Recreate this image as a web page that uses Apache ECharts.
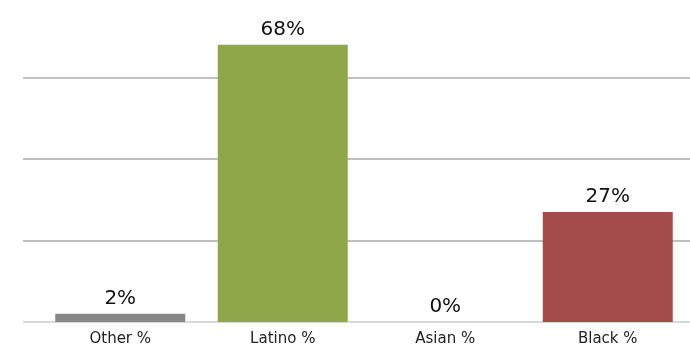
<!DOCTYPE html>
<html>
<head>
<meta charset="utf-8">
<script src="https://cdn.jsdelivr.net/npm/echarts@6/dist/echarts.min.js"></script>
<style>html,body{margin:0;padding:0;background:#fff;}#c{width:690px;height:353px;}</style>
</head>
<body>
<div id="c"></div>
<script>
var categories = ['Other %', 'Latino %', 'Asian %', 'Black %'];
var values = [2, 68, 0, 27];
var barColors = ['#878787', '#8FA64A', '#A44B4B', '#A44B4B'];

var chart = echarts.init(document.getElementById('c'), null, {renderer: 'canvas'});
var font = '"DejaVu Sans", sans-serif';
chart.setOption({
  animation: false,
  grid: [
    {left: 23, right: 0, top: 0, bottom: 31},
    {left: 39, right: 1, top: 0, bottom: 31}
  ],
  xAxis: [
    {gridIndex: 0, type: 'value', show: false, min: 0, max: 1},
    {gridIndex: 1, type: 'category', data: categories,
     axisLine: {show: false}, axisTick: {show: false},
     axisLabel: {color: '#222', fontSize: 15, fontFamily: font, margin: 10}}
  ],
  yAxis: [
    {gridIndex: 0, type: 'value', min: 0, max: 79, interval: 20,
     axisLine: {show: false}, axisTick: {show: false}, axisLabel: {show: false},
     splitLine: {show: true, lineStyle: {width: 2, color: ['#d9d9d9', '#bfbfbf', '#bfbfbf', '#bfbfbf', 'rgba(0,0,0,0)']}}},
    {gridIndex: 1, type: 'value', min: 0, max: 79, interval: 20, show: false,
     splitLine: {show: false}}
  ],
  series: [{
    type: 'bar',
    xAxisIndex: 1, yAxisIndex: 1,
    barCategoryGap: '20%',
    data: values.map(function (v, i) { return {value: v, itemStyle: {color: barColors[i]}}; }),
    label: {show: true, position: 'top', formatter: '{c}%', color: '#111', fontSize: 20, fontFamily: font}
  }]
});
</script>
</body>
</html>
